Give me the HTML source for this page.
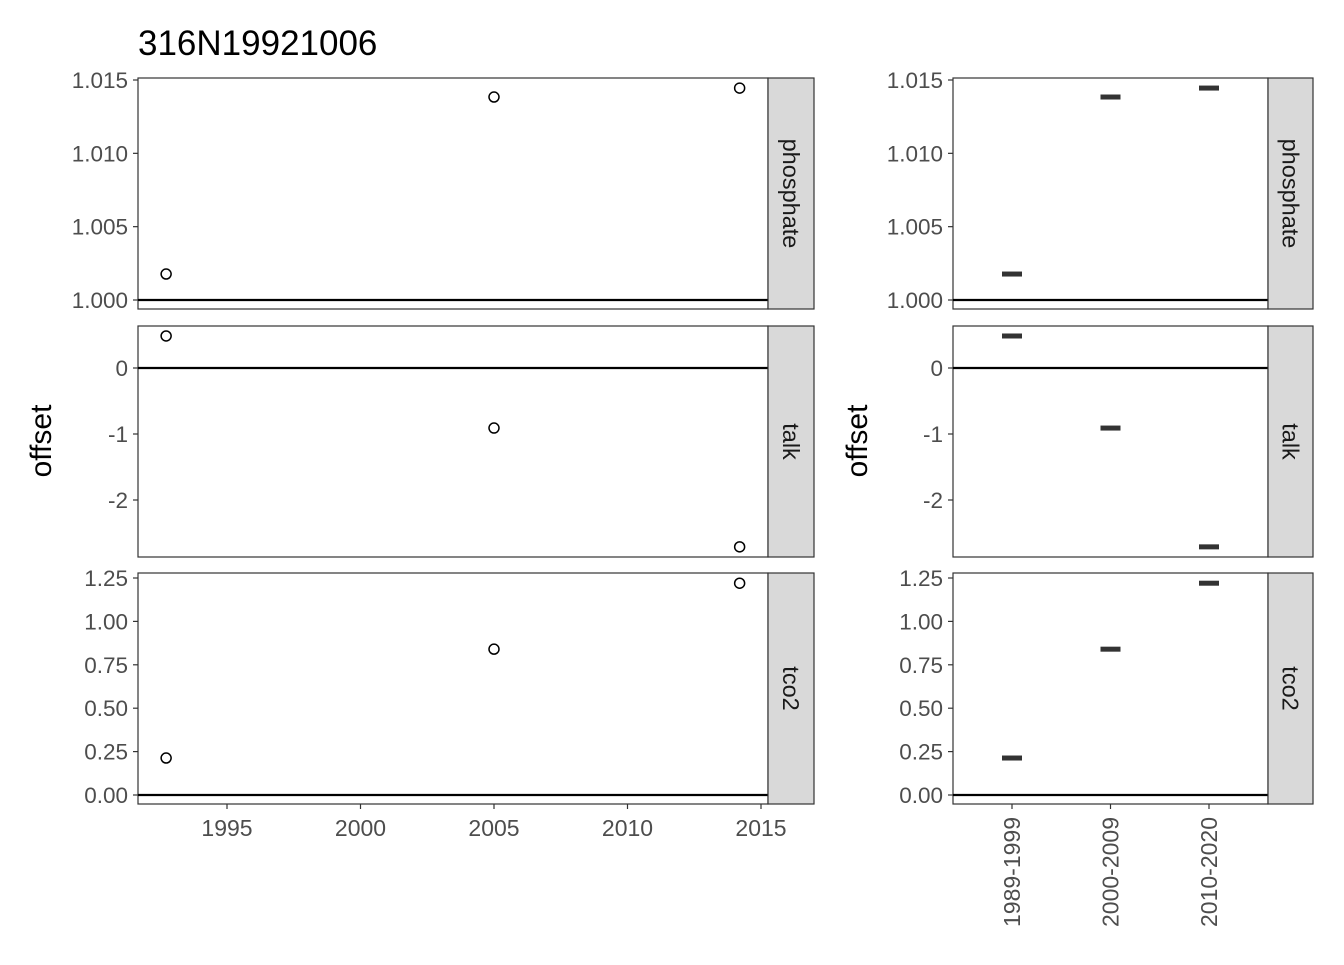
<!DOCTYPE html>
<html><head><meta charset="utf-8">
<style>
body{margin:0;background:#fff;font-family:"Liberation Sans",sans-serif;}
svg text{font-family:"Liberation Sans",sans-serif;}
</style></head>
<body>
<svg id="chart" width="1344" height="960" xmlns="http://www.w3.org/2000/svg">
<text x="138" y="55" font-size="35" fill="#000">316N19921006</text>
<text transform="translate(51,441) rotate(-90)" text-anchor="middle" font-size="30">offset</text>
<text transform="translate(867,441) rotate(-90)" text-anchor="middle" font-size="30">offset</text>
</svg>
<script>
const facets = ["phosphate","talk","tco2"];
const years = [1992.72, 2005.0, 2014.2];
const periods = ["1989-1999","2000-2009","2010-2020"];
const phosphateVals = [1.00177, 1.01384, 1.01445];
const talkVals = [0.485, -0.91, -2.71];
const tco2Vals = [0.213, 0.84, 1.22];
const phosphateTicks = [1.000, 1.005, 1.010, 1.015];
const talkTicks = [0, -1, -2];
const tco2Ticks = [0, 0.25, 0.5, 0.75, 1.0, 1.25];
const xTicks = [1995, 2000, 2005, 2010, 2015];

const svg = document.getElementById('chart');
const NS = "http://www.w3.org/2000/svg";
function mk(tag, attrs, parent){const e=document.createElementNS(NS,tag);for(const k in attrs)e.setAttribute(k,attrs[k]);(parent||svg).appendChild(e);return e;}

const panelsY = [[78,309],[326,557],[573,804]];
const vals = [phosphateVals, talkVals, tco2Vals];
const ticks = [phosphateTicks, talkTicks, tco2Ticks];
const refLine = [1.0, 0, 0];
const tickFmt = [v=>v.toFixed(3), v=>String(v), v=>v.toFixed(2)];
const yAnch = [[1.000,300,1.015,80],[0,368,-1,434],[0,795,1.25,578]];
function yScale(i,v){const a=yAnch[i];return a[1]+(v-a[0])*(a[3]-a[1])/(a[2]-a[0]);}
function xYear(y){return 227+(y-1995)*(761-227)/20;}
function xCat(j){return 1012+j*98.5;}

const sides=[{x0:138,x1:768,sx1:814,axX:138},{x0:953,x1:1268,sx1:1313,axX:953}];

sides.forEach((s,si)=>{
  facets.forEach((f,i)=>{
    const [y0,y1]=panelsY[i];
    const g=mk('g',{});
    
    
    mk('rect',{x:s.x0,y:y0,width:s.x1-s.x0,height:y1-y0,fill:'#fff',stroke:'#333','stroke-width':1.2},g);
    const ry=yScale(i,refLine[i]);
    mk('line',{x1:s.x0,x2:s.x1,y1:ry,y2:ry,stroke:'#000','stroke-width':2.2},g);
    ticks[i].forEach(t=>{
      const y=yScale(i,t);
      mk('line',{x1:s.axX-5,x2:s.axX,y1:y,y2:y,stroke:'#333','stroke-width':1.2},g);
      const tx=mk('text',{x:s.axX-10,y:y+8,'text-anchor':'end','font-size':22.5,fill:'#4d4d4d'},g);
      tx.textContent=tickFmt[i](t);
      
      
    });
    vals[i].forEach((v,j)=>{
      const y=yScale(i,v);
      if(si===0){
        const c=mk('circle',{cx:xYear(years[j]),cy:y,r:5,fill:'none',stroke:'#000','stroke-width':1.5},g);
        
        
      } else {
        const r=mk('rect',{x:xCat(j)-10,y:y-2.5,width:20,height:5,fill:'#333'},g);
        
        
      }
    });
    const st=mk('rect',{x:s.x1,y:y0,width:s.sx1-s.x1,height:y1-y0,fill:'#d9d9d9',stroke:'#333','stroke-width':1.2},g);
    
    
    const cx=(s.x1+s.sx1)/2, cy=(y0+y1)/2;
    const lt=mk('text',{transform:`translate(${cx-8},${cy}) rotate(90)`,'text-anchor':'middle','font-size':23.5,fill:'#1a1a1a'},g);
    lt.textContent=f;
    
    
  });
});
xTicks.forEach(t=>{
  const x=xYear(t);
  mk('line',{x1:x,x2:x,y1:804,y2:809,stroke:'#333','stroke-width':1.2});
  const tx=mk('text',{x:x,y:836,'text-anchor':'middle','font-size':23,fill:'#4d4d4d'});
  tx.textContent=t;
  
  
});
periods.forEach((p,j)=>{
  const x=xCat(j);
  mk('line',{x1:x,x2:x,y1:804,y2:809,stroke:'#333','stroke-width':1.2});
  const tx=mk('text',{transform:`translate(${x+8},817) rotate(-90)`,'text-anchor':'end','font-size':23,fill:'#4d4d4d'});
  tx.textContent=p;
  
  
});
</script>
</body></html>
